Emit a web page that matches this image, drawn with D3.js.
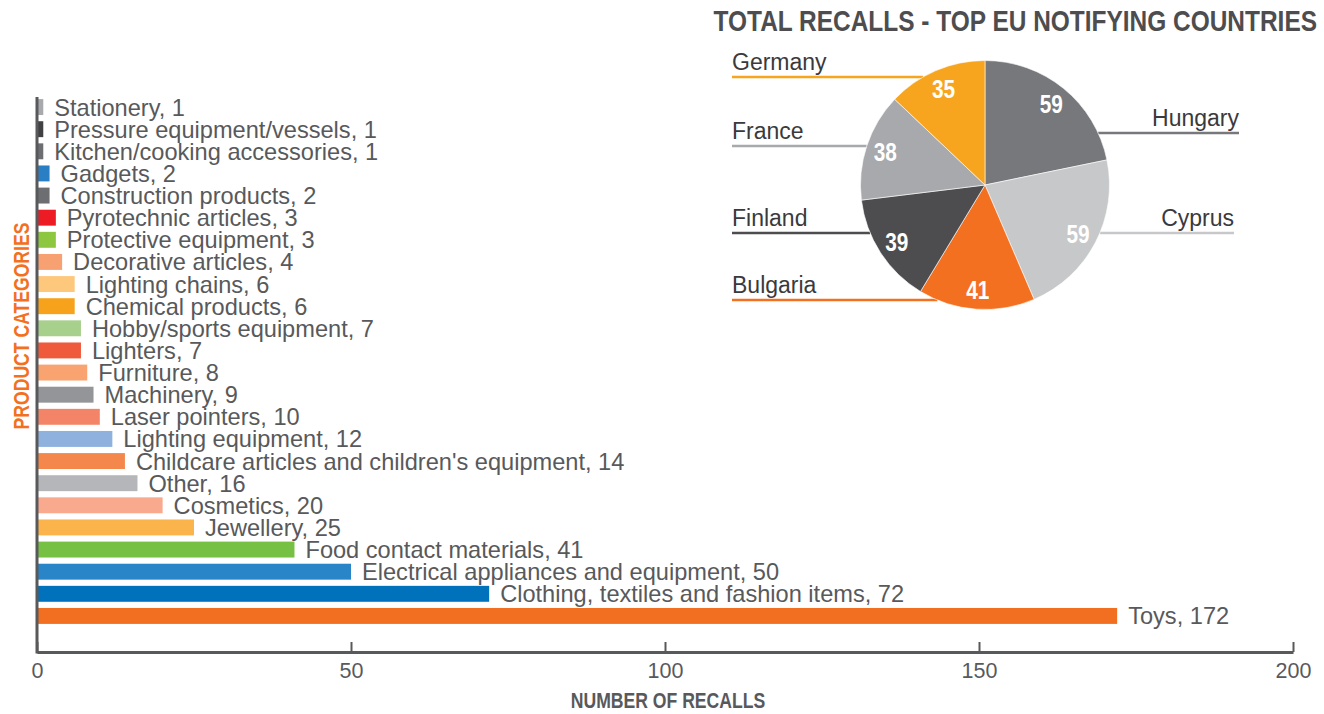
<!DOCTYPE html>
<html lang="en">
<head>
  <meta charset="UTF-8">
  <title>Recalls by product category</title>
  <script src="https://d3js.org/d3.v7.min.js"></script>
  <style>
    body { margin: 0; background: #fff; }
    .label { font: 23.6px "Liberation Sans", Arial, sans-serif; fill: #58595b; }
    .cond { font-family: "Liberation Sans", Arial, sans-serif; font-weight: bold; }
    .axis path, .axis line { stroke: #58595b; }
    .axis text { font: 21.5px "Liberation Sans", Arial, sans-serif; fill: #58595b; }
  </style>
</head>
<body>
  <svg width="1324" height="714"></svg>
  <script>
    // bar chart data, top to bottom
    var categories = ["Stationery", "Pressure equipment/vessels", "Kitchen/cooking accessories", "Gadgets",
      "Construction products", "Pyrotechnic articles", "Protective equipment", "Decorative articles",
      "Lighting chains", "Chemical products", "Hobby/sports equipment", "Lighters", "Furniture",
      "Machinery", "Laser pointers", "Lighting equipment", "Childcare articles and children's equipment",
      "Other", "Cosmetics", "Jewellery", "Food contact materials", "Electrical appliances and equipment",
      "Clothing, textiles and fashion items", "Toys"];
    var recalls = [1, 1, 1, 2, 2, 3, 3, 4, 6, 6, 7, 7, 8, 9, 10, 12, 14, 16, 20, 25, 41, 50, 72, 172];
    var barColors = ["#a7a9ac", "#414042", "#6d6e71", "#2a7fc4", "#6d6e71", "#ed1c24", "#8dc63f", "#f7a072",
      "#fdc77c", "#f7a21b", "#a8d08d", "#f05a3c", "#f9a470", "#939598", "#f48468", "#8fb1de", "#f4874b",
      "#b5b6b9", "#f9a98e", "#fbb34c", "#76c043", "#2985c8", "#0071bb", "#f26f21"];
    var xTicks = [0, 50, 100, 150, 200];

    // pie data, clockwise from 12 o'clock
    var countries = ["Hungary", "Cyprus", "Bulgaria", "Finland", "France", "Germany"];
    var countryRecalls = [59, 59, 41, 39, 38, 35];
    var pieColors = ["#77787b", "#c7c8ca", "#f37021", "#4d4d4f", "#a7a9ac", "#f7a51e"];
    // callout layout: side and vertical offset of the leader line from the pie centre
    var calloutSide = ["right", "right", "left", "left", "left", "left"];
    var calloutDy = [-52, 48, 115, 48, -39, -108];

    var svg = d3.select("svg");

    // bold text squeezed horizontally to mimic the condensed face of the original
    function condText(parent, tx, ty, size, color, anchor, str, rot, sx) {
      return parent.append("text")
        .attr("class", "cond")
        .attr("transform", "translate(" + tx + "," + ty + ")" + (rot ? " rotate(" + rot + ")" : "") +
              " scale(" + (sx || 0.8) + ",1)")
        .attr("text-anchor", anchor)
        .style("font-size", size + "px").style("fill", color)
        .text(str);
    }

    // ---------- bars ----------
    var x = d3.scaleLinear().domain([0, 200]).range([37, 1293]);
    var y = d3.scaleBand().domain(categories).range([96, 627]).paddingInner(0.28).paddingOuter(0.14);
    var axisY = 652;

    var rows = categories.map(function(c, i) { return {name: c, value: recalls[i], color: barColors[i]}; });

    svg.append("g").selectAll("rect")
      .data(rows)
      .enter().append("rect")
      .attr("x", x(0))
      .attr("y", function(d) { return y(d.name); })
      .attr("width", function(d) { return x(d.value) - x(0); })
      .attr("height", y.bandwidth())
      .attr("fill", function(d) { return d.color; });

    svg.append("g").selectAll("text")
      .data(rows)
      .enter().append("text")
      .attr("class", "label")
      .attr("x", function(d) { return x(d.value) + 11; })
      .attr("y", function(d) { return y(d.name) + y.bandwidth() / 2 + 8.5; })
      .text(function(d) { return d.name + ", " + d.value; });

    // x axis
    var xAxis = svg.append("g")
      .attr("class", "axis")
      .attr("transform", "translate(0," + axisY + ")")
      .call(d3.axisBottom(x).tickValues(xTicks).tickSize(-10).tickSizeOuter(0).tickPadding(11));
    xAxis.select(".domain").attr("stroke-width", 3);
    xAxis.selectAll(".tick line").attr("stroke-width", 2);

    // y axis line
    svg.append("line")
      .attr("x1", x(0)).attr("x2", x(0))
      .attr("y1", y.range()[0] + 1).attr("y2", axisY + 1.5)
      .attr("stroke", "#58595b").attr("stroke-width", 3);

    condText(svg, x(100) + 3, 708, 22, "#58595b", "middle", "NUMBER OF RECALLS");
    condText(svg, 28.5, 326, 22, "#f37021", "middle", "PRODUCT CATEGORIES", -90);

    // ---------- pie ----------
    condText(svg, 1317, 31, 30, "#4d4d4f", "end", "TOTAL RECALLS - TOP EU NOTIFYING COUNTRIES", 0, 0.815);

    var cx = 985, cy = 185, radius = 124.5;
    var slices = d3.pie().sort(null).value(function(d) { return d.value; })(
      countries.map(function(c, i) {
        return {name: c, value: countryRecalls[i], color: pieColors[i], side: calloutSide[i], dy: calloutDy[i]};
      }));

    var pg = svg.append("g").attr("transform", "translate(" + cx + "," + cy + ")");

    // leader lines (drawn under the pie, ending at its rim)
    slices.forEach(function(s) {
      var d = s.data;
      var rimX = Math.sqrt(radius * radius - d.dy * d.dy);
      var x1 = d.side === "left" ? 732 - cx : 1239 - cx - (d.name === "Cyprus" ? 5 : 0);
      var x2 = d.side === "left" ? -rimX : rimX;
      pg.append("line")
        .attr("x1", x1).attr("x2", x2)
        .attr("y1", d.dy).attr("y2", d.dy)
        .attr("stroke", d.color).attr("stroke-width", 2.5);
      pg.append("text")
        .attr("class", "label")
        .attr("x", x1)
        .attr("y", d.dy - 7)
        .attr("text-anchor", d.side === "left" ? "start" : "end")
        .style("font-size", "23px")
        .style("fill", "#3a3a3c")
        .text(d.name);
    });

    var arc = d3.arc().innerRadius(0).outerRadius(radius);
    var labelArc = d3.arc().innerRadius(85).outerRadius(125);

    pg.selectAll("path")
      .data(slices)
      .enter().append("path")
      .attr("d", arc)
      .attr("fill", function(d) { return d.data.color; })
      .attr("stroke", "#fff").attr("stroke-width", 0.6);

    slices.forEach(function(s) {
      var c = labelArc.centroid(s);
      condText(pg, c[0], c[1] + 9, 26, "#fff", "middle", s.data.value);
    });
  </script>
</body>
</html>
